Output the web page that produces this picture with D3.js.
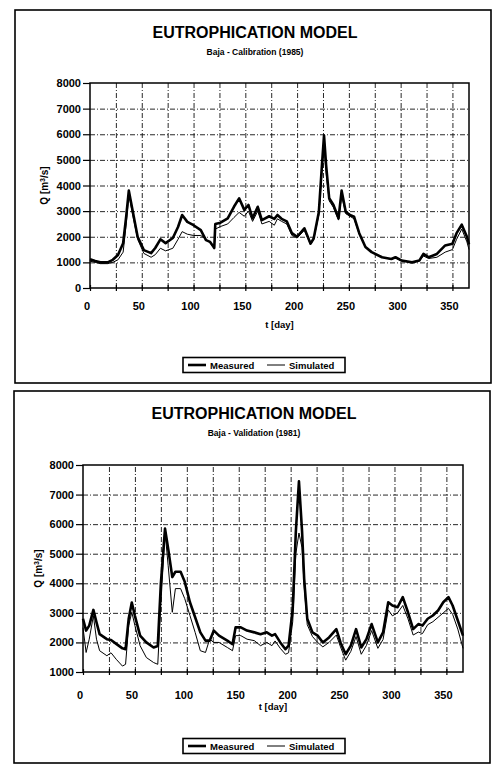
<!DOCTYPE html>
<html>
<head>
<meta charset="utf-8">
<script src="https://cdn.jsdelivr.net/npm/d3@7"></script>
<style>
  html, body { margin: 0; padding: 0; background: #fff; }
  svg { display: block; font-family: "Liberation Sans", Arial, sans-serif; font-weight: bold; }
  .grid line { stroke: #111; stroke-width: 0.9; stroke-dasharray: 5,2,1,2; }
  .grid path { display: none; }
  .axis path, .axis line { stroke: #000; stroke-width: 1.2; }
  .axis text { fill: #000; font-size: 11px; font-weight: bold; }
</style>
</head>
<body>
<svg id="chart" width="492" height="767"></svg>
<script>
// Calibration run (1985)
const calDays = [0, 5, 10, 17, 22, 27, 32, 35, 37.5, 41, 46, 52, 59, 63, 68, 73, 80, 85, 89, 94,
  100, 107, 112, 116, 120, 121, 126, 133, 139, 144, 149, 153, 157, 162, 166, 173, 178, 181, 185, 190,
  195, 200, 207, 213, 216, 221, 224, 226, 228, 231, 235, 240, 243, 247, 251, 255, 260, 266, 272, 282,
  291, 295, 301, 311, 318, 322, 327, 335, 343, 350, 354, 359, 364, 366]
const calMeasured = [1120, 1050, 1000, 1000, 1100, 1290, 1750, 2800, 3800, 3050, 2000, 1480, 1360, 1560, 1900, 1750, 1950, 2380, 2850, 2580,
  2450, 2260, 1870, 1800, 1560, 2500, 2550, 2720, 3170, 3500, 3050, 3240, 2720, 3170, 2650, 2800, 2700, 2850, 2700, 2600,
  2140, 2000, 2330, 1730, 1930, 2970, 4800, 5950, 4800, 3500, 3250, 2720, 3800, 2970, 2850, 2780, 2140, 1600, 1400, 1200,
  1130, 1200, 1070, 1000, 1070, 1330, 1200, 1330, 1660, 1730, 2140, 2470, 2000, 1700]
const calSimulated = [1050, 1000, 950, 950, 1000, 1100, 1400, 2500, 3650, 2900, 1900, 1350, 1200, 1300, 1550, 1450, 1550, 1900, 2200, 2100,
  2050, 2050, 1900, 1750, 1550, 2300, 2400, 2500, 2750, 2950, 2800, 3000, 2600, 3000, 2500, 2600, 2450, 2700, 2600, 2500,
  2050, 1950, 2250, 1700, 1900, 2850, 4500, 5500, 4500, 3400, 3150, 2650, 3600, 2900, 2800, 2700, 2100, 1600, 1400, 1200,
  1120, 1180, 1050, 1000, 1050, 1250, 1150, 1200, 1400, 1500, 1900, 2300, 1800, 1500]

// Validation run (1981)
const valDays = [0, 3, 6, 10, 13, 16, 23, 27, 32, 38, 41, 44, 47, 50, 55, 61, 68, 72, 75, 79,
  82, 86, 89, 94, 98, 103, 108, 113, 118, 122, 126, 131, 139, 144, 147, 152, 158, 165, 171, 177,
  182, 185, 190, 195, 198, 202, 205, 208, 211, 213, 216, 221, 226, 231, 237, 244, 248, 253, 258, 263,
  268, 273, 278, 284, 289, 294, 298, 303, 308, 313, 318, 323, 327, 332, 337, 342, 347, 352, 356, 361, 366]
const valMeasured = [2800, 2400, 2570, 3100, 2680, 2280, 2110, 2080, 1950, 1800, 1770, 2800, 3350, 2900, 2230, 2000, 1830, 1880, 4000, 5850,
  5180, 4210, 4390, 4390, 4050, 3360, 2850, 2340, 2060, 2060, 2400, 2230, 2060, 1940, 2510, 2510, 2400, 2340, 2280, 2340,
  2230, 2280, 2000, 1770, 1890, 3140, 5750, 7450, 5750, 4160, 2800, 2340, 2230, 2000, 2170, 2450, 2000, 1600, 1890, 2450,
  1830, 2110, 2620, 2000, 2340, 3360, 3250, 3190, 3530, 3020, 2450, 2620, 2570, 2800, 2910, 3080, 3360, 3530, 3250, 2740, 2230]
const valSimulated = [2500, 1660, 2110, 2900, 2110, 1720, 1550, 1650, 1430, 1200, 1260, 2570, 3020, 2570, 1890, 1490, 1320, 1260, 3300, 5750,
  4610, 3020, 3820, 3820, 3480, 2910, 2340, 1720, 1660, 2110, 2000, 2000, 1830, 1720, 2230, 2230, 2110, 2060, 1890, 2000,
  1890, 2050, 1800, 1600, 1650, 2700, 5000, 5700, 5200, 3900, 2600, 2200, 2000, 1850, 2000, 2250, 1850, 1400, 1700, 2200,
  1600, 1900, 2400, 1800, 2100, 3100, 2900, 3000, 3250, 2800, 2250, 2350, 2300, 2600, 2700, 2850, 3000, 3150, 2950, 2450, 1800]

const calYTicks = [0, 1000, 2000, 3000, 4000, 5000, 6000, 7000, 8000]
const valYTicks = [1000, 2000, 3000, 4000, 5000, 6000, 7000, 8000]
const xLabelTicks = [0, 50, 100, 150, 200, 250, 300, 350]
const xGridTicks = [0, 25, 50, 75, 100, 125, 150, 175, 200, 225, 250, 275, 300, 325, 350]
const seriesNames = ['Measured', 'Simulated']

const panels = [
  {
    frame: { x: 15, y: 10, w: 476, h: 373 },
    plot: { left: 90, right: 469, top: 83, bottom: 288 },
    title: 'EUTROPHICATION MODEL', titleY: 38,
    subtitle: 'Baja - Calibration (1985)', subtitleY: 55,
    yTicks: calYTicks, days: calDays, measured: calMeasured, simulated: calSimulated,
    xLabelY: 310, xTitleY: 328, yTitleX: 48, legendY: 365,
  },
  {
    frame: { x: 14, y: 391, w: 476, h: 372 },
    plot: { left: 83, right: 463, top: 465, bottom: 672 },
    title: 'EUTROPHICATION MODEL', titleY: 419,
    subtitle: 'Baja - Validation (1981)', subtitleY: 436,
    yTicks: valYTicks, days: valDays, measured: valMeasured, simulated: valSimulated,
    xLabelY: 699, xTitleY: 710, yTitleX: 42, legendY: 746,
  },
]

const svg = d3.select('#chart')

function drawPanel(p) {
  const g = svg.append('g')

  // panel frame
  g.append('rect')
    .attr('x', p.frame.x).attr('y', p.frame.y)
    .attr('width', p.frame.w).attr('height', p.frame.h)
    .attr('fill', 'none').attr('stroke', '#000').attr('stroke-width', 1.6)

  const x = d3.scaleLinear().domain([0, 366]).range([p.plot.left, p.plot.right])
  const y = d3.scaleLinear()
    .domain([p.yTicks[0], p.yTicks[p.yTicks.length - 1]])
    .range([p.plot.bottom, p.plot.top])
  const iw = p.plot.right - p.plot.left
  const ih = p.plot.bottom - p.plot.top

  // titles
  const cx = (p.frame.x + p.frame.x + p.frame.w) / 2 + 2
  g.append('text').attr('x', cx).attr('y', p.titleY)
    .attr('text-anchor', 'middle').attr('font-size', 16).attr('font-weight', 'bold')
    .text(p.title)
  g.append('text').attr('x', cx).attr('y', p.subtitleY)
    .attr('text-anchor', 'middle').attr('font-size', 8.5).attr('font-weight', 'bold')
    .text(p.subtitle)

  // grid
  g.append('g').attr('class', 'grid')
    .attr('transform', `translate(${p.plot.left},0)`)
    .call(d3.axisLeft(y).tickValues(p.yTicks.slice(1, -1)).tickSize(-iw).tickFormat(''))
  g.append('g').attr('class', 'grid')
    .attr('transform', `translate(0,${p.plot.bottom})`)
    .call(d3.axisBottom(x).tickValues(xGridTicks.slice(1)).tickSize(-ih).tickFormat(''))

  // y axis
  const ya = g.append('g').attr('class', 'axis')
    .attr('transform', `translate(${p.plot.left},0)`)
    .call(d3.axisLeft(y).tickValues(p.yTicks).tickFormat(d3.format('d'))
      .tickSize(7).tickSizeOuter(0).tickPadding(2))
  ya.select('.domain').remove()

  // x axis ticks (crossing)
  const xa = g.append('g').attr('class', 'axis')
    .attr('transform', `translate(0,${p.plot.bottom})`)
    .call(d3.axisBottom(x).tickValues(xGridTicks).tickSize(3).tickFormat(''))
  xa.select('.domain').remove()
  xa.selectAll('.tick line').attr('y1', -3)

  // x tick labels
  g.append('g').selectAll('text')
    .data(xLabelTicks)
    .join('text')
    .attr('x', (d) => x(d) - 3)
    .attr('y', p.xLabelY)
    .attr('text-anchor', 'middle')
    .attr('font-size', 11)
    .text((d) => d)

  // plot frame
  g.append('rect')
    .attr('x', p.plot.left).attr('y', p.plot.top)
    .attr('width', iw).attr('height', ih)
    .attr('fill', 'none').attr('stroke', '#000').attr('stroke-width', 1.5)

  // series
  const line = (vals) => d3.line()
    .x((d, i) => x(p.days[i]))
    .y((d) => y(d))(vals)

  g.append('path').attr('d', line(p.simulated))
    .attr('fill', 'none').attr('stroke', '#000').attr('stroke-width', 1)
    .attr('stroke-linejoin', 'round')
  g.append('path').attr('d', line(p.measured))
    .attr('fill', 'none').attr('stroke', '#000').attr('stroke-width', 2.6)
    .attr('stroke-linejoin', 'round')

  // axis titles
  g.append('text').attr('x', x(183)).attr('y', p.xTitleY)
    .attr('text-anchor', 'middle').attr('font-size', 9.5).text('t [day]')
  const yt = g.append('text')
    .attr('transform', `translate(${p.yTitleX},${(p.plot.top + p.plot.bottom) / 2}) rotate(-90)`)
    .attr('text-anchor', 'middle').attr('font-size', 10)
  yt.append('tspan').text('Q [m')
  yt.append('tspan').attr('dy', -3).attr('font-size', 7).text('3')
  yt.append('tspan').attr('dy', 3).text('/s]')

  // legend
  const lx = 183, lw = 162, lh = 15
  const lg = g.append('g').attr('transform', `translate(${lx},${p.legendY - lh / 2})`)
  lg.append('rect').attr('width', lw).attr('height', lh)
    .attr('fill', '#fff').attr('stroke', '#000').attr('stroke-width', 1.6)
  const items = [
    { name: seriesNames[0], w: 2.6, x0: 5 },
    { name: seriesNames[1], w: 1, x0: 84 },
  ]
  items.forEach((it) => {
    lg.append('line').attr('x1', it.x0).attr('x2', it.x0 + 18)
      .attr('y1', lh / 2).attr('y2', lh / 2)
      .attr('stroke', '#000').attr('stroke-width', it.w)
    lg.append('text').attr('x', it.x0 + 22).attr('y', lh / 2 + 3.5)
      .attr('font-size', 9.5).text(it.name)
  })
}

panels.forEach(drawPanel)
</script>
</body>
</html>
